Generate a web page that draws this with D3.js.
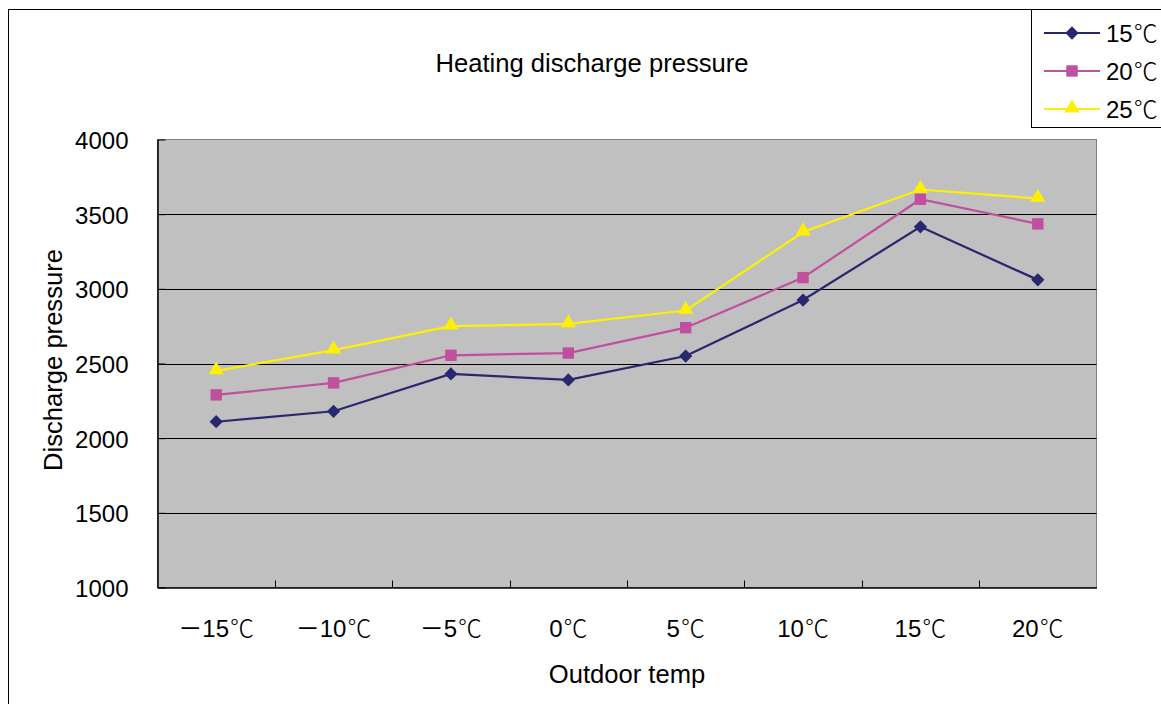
<!DOCTYPE html>
<html>
<head>
<meta charset="utf-8">
<script src="https://cdn.jsdelivr.net/npm/d3@7"></script>
<style>
  html, body { margin: 0; padding: 0; background: #fff; }
  svg { display: block; }
  text { font-family: "Liberation Sans", Arial, "Noto Sans CJK SC", sans-serif; fill: #000; }
</style>
</head>
<body>
<svg id="chart" width="1161" height="704"></svg>
<script>
// ---- data ----
const categories = ["－15℃", "－10℃", "－5℃", "0℃", "5℃", "10℃", "15℃", "20℃"];
const seriesNames = ["15℃", "20℃", "25℃"];
const values15 = [2110, 2180, 2430, 2390, 2550, 2925, 3415, 3060];
const values20 = [2290, 2370, 2555, 2570, 2740, 3075, 3600, 3435];
const values25 = [2450, 2590, 2750, 2765, 2855, 3380, 3665, 3605];
const yTickValues = [1000, 1500, 2000, 2500, 3000, 3500, 4000];
const titleText = "Heating discharge pressure";
const xTitle = "Outdoor temp";
const yTitle = "Discharge pressure";

// ---- styles ----
const colors = ["#29286F", "#C0509E", "#FFF000"];
const symbols = ["diamond", "square", "triangle"];
const CJK = "'Noto Sans CJK SC', sans-serif";

const series = [values15, values20, values25].map((v, i) => ({ name: seriesNames[i], values: v, color: colors[i], symbol: symbols[i] }));

const svg = d3.select("#chart");

// write a label, putting CJK symbols (－, ℃) in a CJK font
function richText(sel, str) {
  sel.text(null);
  const parts = str.split(/([－℃])/).filter(p => p.length);
  parts.forEach(p => {
    const t = sel.append("tspan").text(p);
    if (p === "℃") t.attr("font-family", CJK).attr("font-weight", 300).attr("dx", 1);
    else if (p === "－") t.attr("font-family", CJK);
  });
}

// outer chart border
svg.append("rect").attr("x", 8.5).attr("y", 9.5).attr("width", 1200).attr("height", 800)
  .attr("fill", "#fff").attr("stroke", "#000").attr("stroke-width", 1);

const plot = { left: 157.5, right: 1096.5, top: 139.5, bottom: 587.5 };

const x = d3.scaleBand().domain(categories).range([plot.left, plot.right]).padding(0);
const y = d3.scaleLinear().domain([1000, 4000]).range([plot.bottom, plot.top]);

// plot background
svg.append("rect").attr("x", plot.left).attr("y", plot.top)
  .attr("width", plot.right - plot.left).attr("height", plot.bottom - plot.top)
  .attr("fill", "#C0C0C0").attr("stroke", "#808080").attr("stroke-width", 1);

// gridlines
svg.append("g").selectAll("line").data(yTickValues.filter(v => v > 1000 && v < 4000)).join("line")
  .attr("x1", plot.left).attr("x2", plot.right)
  .attr("y1", d => Math.round(y(d)) + 0.5).attr("y2", d => Math.round(y(d)) + 0.5)
  .attr("stroke", "#000").attr("stroke-width", 1);

// y axis
const yAxis = d3.axisLeft(y).tickValues(yTickValues).tickSizeInner(-8).tickSizeOuter(0).tickPadding(30).tickFormat(d3.format("d"));
const gy = svg.append("g").attr("transform", `translate(${plot.left},0)`).call(yAxis);
gy.select(".domain").attr("stroke", "#000").attr("stroke-width", 1.5);
gy.selectAll(".tick line").attr("stroke", "#000");
gy.selectAll(".tick text").attr("font-size", 24).attr("font-family", "Liberation Sans, Arial, sans-serif")
  .attr("dy", "0.37em").attr("x", -29).attr("transform", "scale(1,1.06)")
  .attr("y", function() { return 0; });
// apply slight vertical stretch around each tick's own position
gy.selectAll(".tick text").attr("transform", null);

// x axis (labels under band centres, ticks at band boundaries)
const xAxis = d3.axisBottom(x).tickSize(0).tickPadding(0);
const gx = svg.append("g").attr("transform", `translate(0,${plot.bottom})`).call(xAxis);
gx.select(".domain").attr("stroke", "#000").attr("stroke-width", 1.5);
gx.selectAll(".tick text").attr("font-size", 24).attr("font-family", "Liberation Sans, Arial, sans-serif")
  .attr("dy", null).attr("y", 49)
  .each(function(d) { richText(d3.select(this), d); });
const boundaries = categories.map(c => x(c)).concat([x.range()[1]]);
svg.append("g").selectAll("line").data(boundaries.slice(1, -1)).join("line")
  .attr("x1", d => Math.round(d) + 0.5).attr("x2", d => Math.round(d) + 0.5)
  .attr("y1", plot.bottom).attr("y2", plot.bottom - 7)
  .attr("stroke", "#000").attr("stroke-width", 1);

// symbol helper
function symbolPath(kind) {
  if (kind === "diamond") return d3.symbol(d3.symbolSquare, 88)();
  if (kind === "square") return d3.symbol(d3.symbolSquare, 130)();
  return d3.symbol(d3.symbolTriangle, 100)();
}
function symbolTransform(kind, cx, cy) {
  if (kind === "diamond") return `translate(${cx},${cy}) rotate(45)`;
  if (kind === "triangle") return `translate(${cx},${cy - 1})`;
  return `translate(${cx},${cy})`;
}

const line = d3.line().x((d, i) => x(categories[i]) + x.bandwidth() / 2).y(d => y(d));

series.forEach(s => {
  svg.append("path").attr("d", line(s.values)).attr("fill", "none")
    .attr("stroke", s.color).attr("stroke-width", 2.2);
});
series.forEach(s => {
  svg.append("g").selectAll("path").data(s.values).join("path")
    .attr("d", symbolPath(s.symbol))
    .attr("transform", (d, i) => symbolTransform(s.symbol, x(categories[i]) + x.bandwidth() / 2, y(d)))
    .attr("fill", s.color);
});

// title
svg.append("text").attr("x", 592).attr("y", 72).attr("text-anchor", "middle")
  .attr("font-size", 25.6).text(titleText);

// axis titles
svg.append("text").attr("x", 627).attr("y", 683).attr("text-anchor", "middle")
  .attr("font-size", 25.6).text(xTitle);
svg.append("text").attr("transform", "translate(62,360) rotate(-90)").attr("text-anchor", "middle")
  .attr("font-size", 25.6).text(yTitle);

// legend
const legend = svg.append("g");
legend.append("rect").attr("x", 1031.5).attr("y", 9.5).attr("width", 200).attr("height", 118)
  .attr("fill", "#fff").attr("stroke", "#000").attr("stroke-width", 1);
const legendY = d3.scalePoint().domain(seriesNames).range([33, 109]);
series.forEach(s => {
  const ly = legendY(s.name);
  legend.append("line").attr("x1", 1044).attr("x2", 1100).attr("y1", ly).attr("y2", ly)
    .attr("stroke", s.color).attr("stroke-width", 2.2);
  legend.append("path").attr("d", symbolPath(s.symbol))
    .attr("transform", symbolTransform(s.symbol, 1072, ly)).attr("fill", s.color);
  const t = legend.append("text").attr("x", 1106).attr("y", ly + 9).attr("font-size", 24)
    .attr("font-family", "Liberation Sans, Arial, sans-serif");
  richText(t, s.name);
});
</script>
</body>
</html>
